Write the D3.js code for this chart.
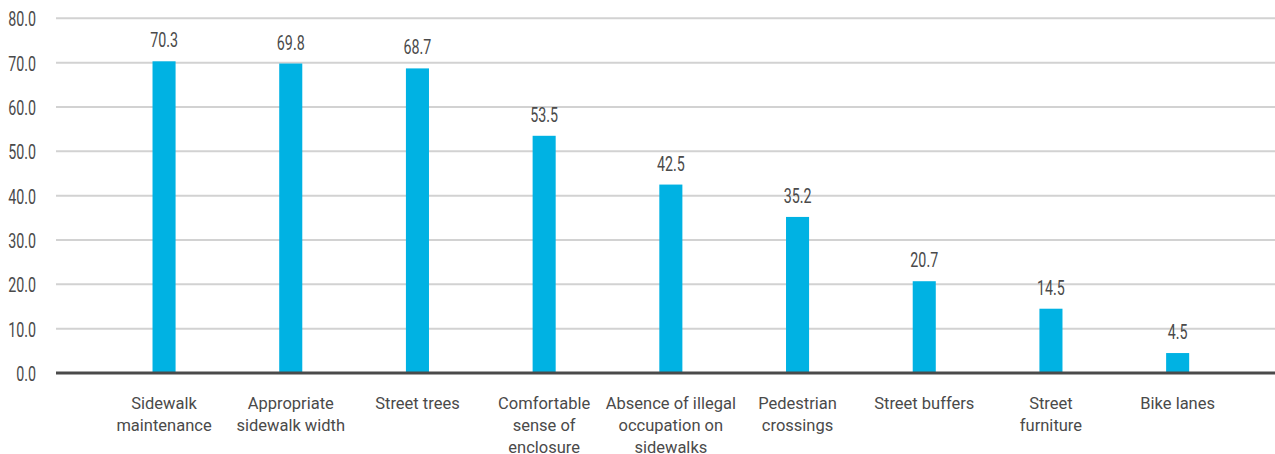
<!DOCTYPE html>
<html>
<head>
<meta charset="utf-8">
<script src="https://cdn.jsdelivr.net/npm/d3@7"></script>
<style>
  html, body { margin: 0; padding: 0; background: #fff; }
  svg { display: block; }
</style>
</head>
<body>
<div id="chart"></div>
<script>
const categories = [
    "Sidewalk\nmaintenance",
    "Appropriate\nsidewalk width",
    "Street trees",
    "Comfortable\nsense of\nenclosure",
    "Absence of illegal\noccupation on\nsidewalks",
    "Pedestrian\ncrossings",
    "Street buffers",
    "Street\nfurniture",
    "Bike lanes"
];
const values = [70.3, 69.8, 68.7, 53.5, 42.5, 35.2, 20.7, 14.5, 4.5];
const yTicks = [0, 10, 20, 30, 40, 50, 60, 70, 80];

const width = 1275, height = 454;
const numFont = "Roboto, 'Liberation Sans', sans-serif";
const textFont = "Roboto, 'Liberation Sans', sans-serif";
// the numbers in the original use a condensed face, squeeze them horizontally
const squeeze = 0.68;

const svg = d3.select("#chart").append("svg")
    .attr("width", width)
    .attr("height", height);

const x = d3.scaleBand()
    .domain(categories)
    .range([100.7, 1241])
    .paddingInner(0.818)
    .paddingOuter(0.409);

const y = d3.scaleLinear()
    .domain([0, 80])
    .range([373, 18.3]);

// grid lines
svg.append("g")
    .selectAll("line")
    .data(yTicks.filter(d => d > 0))
    .enter()
    .append("line")
    .attr("x1", 56)
    .attr("x2", width)
    .attr("y1", d => y(d))
    .attr("y2", d => y(d))
    .attr("stroke", "#d2d2d2")
    .attr("stroke-width", 2);

// y tick labels
svg.append("g")
    .selectAll("text")
    .data(yTicks)
    .enter()
    .append("text")
    .attr("transform", d => `translate(36,${y(d) + 8}) scale(${squeeze},1)`)
    .attr("text-anchor", "end")
    .attr("font-family", numFont)
    .attr("font-size", 21)
    .attr("fill", "#4a4a4a")
    .text(d => d.toFixed(1));

// bars
svg.append("g")
    .selectAll("rect")
    .data(values)
    .enter()
    .append("rect")
    .attr("x", (d, i) => x(categories[i]))
    .attr("width", x.bandwidth())
    .attr("y", d => y(d))
    .attr("height", d => y(0) - y(d))
    .attr("fill", "#00b2e3");

// value labels
svg.append("g")
    .selectAll("text")
    .data(values)
    .enter()
    .append("text")
    .attr("transform", (d, i) =>
        `translate(${x(categories[i]) + x.bandwidth() / 2},${y(d) - 14}) scale(${squeeze},1)`)
    .attr("text-anchor", "middle")
    .attr("font-family", numFont)
    .attr("font-size", 21)
    .attr("fill", "#4a4a4a")
    .text(d => d.toFixed(1));

// baseline
svg.append("line")
    .attr("x1", 56)
    .attr("x2", width)
    .attr("y1", y(0))
    .attr("y2", y(0))
    .attr("stroke", "#4a4a4a")
    .attr("stroke-width", 3);

// category labels
const labels = svg.append("g")
    .selectAll("text")
    .data(categories)
    .enter()
    .append("text")
    .attr("text-anchor", "middle")
    .attr("font-family", textFont)
    .attr("font-size", 16.5)
    .attr("fill", "#4a4a4a");

labels.each(function(d) {
    const cx = x(d) + x.bandwidth() / 2;
    d3.select(this).selectAll("tspan")
        .data(d.split("\n"))
        .enter()
        .append("tspan")
        .attr("x", cx)
        .attr("y", (line, j) => 409 + j * 22)
        .text(line => line);
});
</script>
</body>
</html>
